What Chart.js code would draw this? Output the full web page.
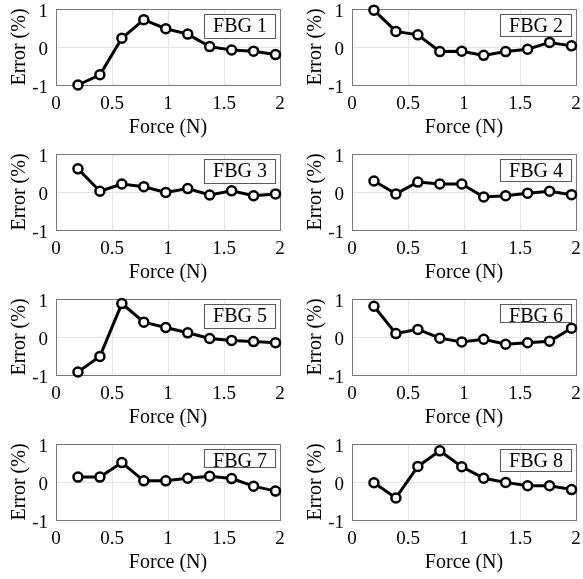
<!DOCTYPE html>
<html>
<head>
<meta charset="utf-8">
<script src="https://cdn.jsdelivr.net/npm/chart.js@4/dist/chart.umd.min.js"></script>
<style>
  html, body { margin: 0; padding: 0; background: #fff; overflow: hidden; }
  #grid { position: relative; width: 583px; height: 579px; overflow: hidden; }
  #grid canvas { position: absolute; }
</style>
</head>
<body>
<div id="grid"></div>
<script>
// Applied force for each loading step (N)
const forces = [0.196, 0.392, 0.588, 0.784, 0.98, 1.176, 1.372, 1.568, 1.764, 1.96];

// Relative error of each FBG sensor at every force step (%)
const fbg1 = [-1.0, -0.73, 0.23, 0.72, 0.48, 0.34, 0.01, -0.08, -0.11, -0.2];
const fbg2 = [0.97, 0.41, 0.32, -0.12, -0.11, -0.22, -0.12, -0.06, 0.12, 0.03];
const fbg3 = [0.61, 0.02, 0.21, 0.14, -0.01, 0.09, -0.08, 0.03, -0.1, -0.05];
const fbg4 = [0.29, -0.05, 0.26, 0.21, 0.21, -0.13, -0.1, -0.03, 0.02, -0.07];
const fbg5 = [-0.92, -0.51, 0.88, 0.39, 0.25, 0.11, -0.04, -0.09, -0.12, -0.15];
const fbg6 = [0.81, 0.09, 0.2, -0.03, -0.13, -0.06, -0.19, -0.15, -0.11, 0.23];
const fbg7 = [0.13, 0.13, 0.51, 0.03, 0.03, 0.1, 0.15, 0.09, -0.11, -0.24];
const fbg8 = [-0.02, -0.42, 0.41, 0.82, 0.4, 0.1, -0.01, -0.1, -0.1, -0.2];

const sensorNames = ['FBG 1', 'FBG 2', 'FBG 3', 'FBG 4', 'FBG 5', 'FBG 6', 'FBG 7', 'FBG 8'];
const sensorSeries = [fbg1, fbg2, fbg3, fbg4, fbg5, fbg6, fbg7, fbg8];

// Axis ranges and tick spacing
const xRange = [0, 2];
const xStep = 0.5;
const yRange = [-1, 1];
const yStep = 1;

const FONT = '"Liberation Serif", "Times New Roman", serif';
const AXIS_COLOR = '#7a7a7a';
const GRID_COLOR = '#e4e4e4';

// Framed name tag in the upper right corner of each panel
const nameTag = {
  id: 'nameTag',
  afterDatasetsDraw(chart, args, opts) {
    const { ctx, chartArea: a } = chart;
    const w = 72, h = opts.height || 25;
    const x = Math.round(a.right - 4 - w);
    const y = Math.round(a.top + 5);
    ctx.save();
    ctx.fillStyle = '#ffffff';
    ctx.fillRect(x, y, w, h);
    ctx.strokeStyle = '#5a5a5a';
    ctx.lineWidth = 1;
    ctx.strokeRect(x + 0.5, y + 0.5, w - 1, h - 1);
    ctx.fillStyle = '#000';
    ctx.font = '20px ' + FONT;
    ctx.textAlign = 'center';
    ctx.textBaseline = 'middle';
    ctx.fillText(opts.text, x + w / 2, y + 13);
    ctx.restore();
  }
};

const tagHeights = [25, 23, 25, 23, 25, 19, 19, 23];

const grid = document.getElementById('grid');
const CW = 287, CH = 145;

const plainNumber = (v) => String(Math.round(v * 100) / 100);

sensorSeries.forEach((vals, i) => {
  const col = i % 2, row = Math.floor(i / 2);
  const cv = document.createElement('canvas');
  cv.width = CW; cv.height = CH;
  cv.style.left = (col === 0 ? 0 : 296) + 'px';
  cv.style.top = (row * 145) + 'px';
  cv.style.width = CW + 'px'; cv.style.height = CH + 'px';
  grid.appendChild(cv);

  const edgeColor = (ctx, min, max) => {
    const v = ctx.tick ? ctx.tick.value : null;
    return (v === min || v === max) ? AXIS_COLOR : GRID_COLOR;
  };

  new Chart(cv, {
    type: 'line',
    data: {
      datasets: [{
        data: forces.map((f, k) => ({ x: f, y: vals[k] })),
        borderColor: '#000',
        borderWidth: 3,
        pointRadius: 4.5,
        pointBorderWidth: 2.5,
        pointBorderColor: '#000',
        pointBackgroundColor: '#fff',
        tension: 0,
        clip: false
      }]
    },
    options: {
      responsive: false,
      animation: false,
      events: [],
      layout: { padding: { top: 9, right: 5, bottom: 5, left: 0 } },
      plugins: {
        legend: { display: false },
        tooltip: { enabled: false },
        nameTag: { text: sensorNames[i], height: tagHeights[i] }
      },
      scales: {
        x: {
          type: 'linear',
          min: xRange[0], max: xRange[1],
          ticks: {
            stepSize: xStep,
            color: '#000',
            padding: 0,
            maxRotation: 0,
            callback: plainNumber,
            font: { family: FONT, size: 19, lineHeight: 2 }
          },
          grid: {
            drawTicks: false,
            lineWidth: 1,
            color: (c) => edgeColor(c, xRange[0], xRange[1])
          },
          border: { color: AXIS_COLOR, width: 1 },
          title: {
            display: true,
            text: 'Force (N)',
            color: '#000',
            padding: { top: 2, bottom: 0 },
            font: { family: FONT, size: 20 }
          },
          afterFit: (s) => { s.height = 55; }
        },
        y: {
          min: yRange[0], max: yRange[1],
          ticks: {
            stepSize: yStep,
            color: '#000',
            padding: 8,
            labelOffset: 3,
            callback: plainNumber,
            font: { family: FONT, size: 19, lineHeight: 0.1 }
          },
          grid: {
            drawTicks: false,
            lineWidth: 1,
            color: (c) => edgeColor(c, yRange[0], yRange[1])
          },
          border: { color: AXIS_COLOR, width: 1 },
          title: {
            display: true,
            text: 'Error (%)',
            color: '#000',
            padding: { top: 8, bottom: 0 },
            font: { family: FONT, size: 20 }
          },
          afterFit: (s) => { s.width = 56; }
        }
      }
    },
    plugins: [nameTag]
  });
});
</script>
</body>
</html>
